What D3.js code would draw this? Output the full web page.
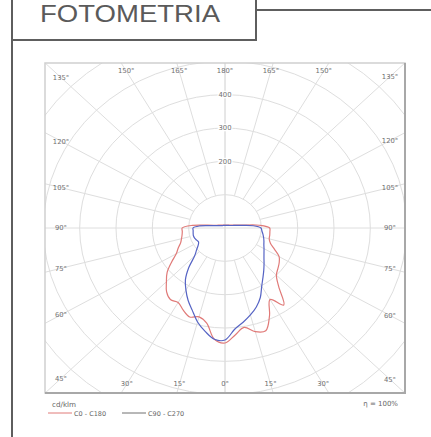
<!DOCTYPE html>
<html><head><meta charset="utf-8">
<script src="https://cdn.jsdelivr.net/npm/d3@7"></script>
<style>body{margin:0;background:#fff}svg{display:block}</style>
</head><body>
<svg id="c" width="431" height="437"></svg>
<script>
// ---- data ----
const gammaDeg = [0,5,10,15,20,25,30,35,40,45,50,55,60,65,70,75,80,85,90,95,100,105,110,120,135,150,165,180];
const c0   = [345,322,303,322,328,290,248,282,230,200,190,182,172,150,133,126,125,124,123,95,50,33,25,17,12,10,9,9];
const c180 = [345,335,290,276,284,272,258,262,250,228,208,180,155,142,130,124,120,118,118,90,48,32,24,17,12,10,9,9];
const c90  = [336,305,287,270,252,230,202,182,166,152,140,131,124,118,114,110,106,102,99,78,44,30,22,15,11,9,8,8];
const c270 = [336,335,315,292,263,240,215,190,155,118,102,90,84,86,89,90,89,88,88,70,40,28,20,14,10,9,8,8];
const ringValues = [100,200,300,400,500,600,700];
const ringLabels = [200,300,400];
const spokeAngles = d3.range(0,181,15);
const labelAngles = [0,15,30,45,60,75,90,105,120,135,150,165,180];
const seriesNames = ["C0 - C180","C90 - C270"];
const seriesColors = ["#e07a78","#5563c4"];
const legendColors = ["#e07a78","#707070"];
const unitLabel = "cd/klm";
const effLabel = "η = 100%";
const title = "FOTOMETRIA";

// ---- layout ----
const svg = d3.select("#c");
const frame = {x0:45, y0:63, x1:405, y1:393};
const cx = (frame.x0+frame.x1)/2, cy = (frame.y0+frame.y1)/2;
const stretch = 1.09;
const ry = d3.scaleLinear().domain([0,100]).range([0,100/3]);
const rx = d3.scaleLinear().domain([0,100]).range([0,100/3*stretch]);
const rad = d => d*Math.PI/180;
const pt = (g,v,side) => [cx + side*rx(v)*Math.sin(rad(g)), cy + ry(v)*Math.cos(rad(g))];

// header
const hc = "#5e5e5e";
svg.append("line").attr("x1",12).attr("y1",0).attr("x2",12).attr("y2",437).attr("stroke",hc).attr("stroke-width",2);
svg.append("line").attr("x1",12).attr("y1",40).attr("x2",256).attr("y2",40).attr("stroke",hc).attr("stroke-width",2);
svg.append("line").attr("x1",256).attr("y1",0).attr("x2",256).attr("y2",41).attr("stroke",hc).attr("stroke-width",2);
svg.append("line").attr("x1",256).attr("y1",10).attr("x2",431).attr("y2",10).attr("stroke",hc).attr("stroke-width",2);
svg.append("text").attr("x",40).attr("y",22).attr("font-family","'Liberation Sans', sans-serif")
  .attr("font-size",23).attr("fill","#5a5a5a").attr("textLength",180).attr("lengthAdjust","spacingAndGlyphs").text(title);

// clip
svg.append("clipPath").attr("id","fr").append("rect")
  .attr("x",frame.x0).attr("y",frame.y0).attr("width",frame.x1-frame.x0).attr("height",frame.y1-frame.y0);
const g = svg.append("g").attr("clip-path","url(#fr)");
const gc = "#dedede";
g.selectAll("ellipse.ring").data(ringValues).join("ellipse").attr("class","ring")
  .attr("cx",cx).attr("cy",cy).attr("rx",d=>rx(d)).attr("ry",d=>ry(d))
  .attr("fill","none").attr("stroke",gc).attr("stroke-width",1);
[1,-1].forEach(side=>{
  g.selectAll(null).data(spokeAngles).join("line")
    .attr("x1",d=>pt(d,(d%90===0)?0:100,side)[0]).attr("y1",d=>pt(d,(d%90===0)?0:100,side)[1])
    .attr("x2",d=>pt(d,1200,side)[0]).attr("y2",d=>pt(d,1200,side)[1])
    .attr("stroke",gc).attr("stroke-width",1);
});

// frame
svg.append("rect").attr("x",frame.x0).attr("y",frame.y0).attr("width",frame.x1-frame.x0).attr("height",frame.y1-frame.y0)
  .attr("fill","none").attr("stroke","#cfcfcf").attr("stroke-width",1.5);
svg.append("path").attr("d",`M${frame.x1},${frame.y0}V${frame.y1}H${frame.x0}`)
  .attr("fill","none").attr("stroke","#a8a8a8").attr("stroke-width",2);

// angle labels
const inset = {x0:61, x1:390, y0:71, y1:384};
function labelPos(a, side){
  const dx = side*Math.sin(rad(a))*stretch, dy = Math.cos(rad(a));
  let t = Infinity;
  if (dx>1e-6) t = Math.min(t,(inset.x1-cx)/dx);
  if (dx<-1e-6) t = Math.min(t,(inset.x0-cx)/dx);
  if (dy>1e-6) t = Math.min(t,(inset.y1-cy)/dy);
  if (dy<-1e-6) t = Math.min(t,(inset.y0-cy)/dy);
  return [cx+dx*t, cy+dy*t];
}
const labs = [];
labelAngles.forEach(a=>{
  labs.push({a, p:labelPos(a,-1)});
  if (a!==0 && a!==180) labs.push({a, p:labelPos(a,1)});
});
svg.selectAll("text.al").data(labs).join("text").attr("class","al")
  .attr("x",d=>d.p[0]).attr("y",d=>d.p[1]).attr("dy","0.35em").attr("text-anchor","middle")
  .attr("font-family","'DejaVu Sans', sans-serif").attr("font-size",6.8).attr("fill","#707070").text(d=>d.a+"°");

// ring labels
svg.selectAll("text.rl").data(ringLabels).join("text").attr("class","rl")
  .attr("x",cx).attr("y",d=>cy-ry(d)).attr("dy","0.35em").attr("text-anchor","middle")
  .attr("font-family","'DejaVu Sans', sans-serif").attr("font-size",6.8).attr("fill","#707070")
  .attr("stroke","#fff").attr("stroke-width",2.5).attr("paint-order","stroke").text(d=>d);

// curves
function closedPts(right,left){
  const pts = gammaDeg.map((gd,i)=>pt(gd,right[i],1));
  for (let i=gammaDeg.length-2;i>=1;i--) pts.push(pt(gammaDeg[i],left[i],-1));
  return pts;
}
const line = d3.line().curve(d3.curveCatmullRomClosed.alpha(0.5));
const seriesData = [closedPts(c0,c180), closedPts(c90,c270)];
svg.selectAll("path.s").data(seriesData).join("path").attr("class","s")
  .attr("d",d=>line(d)).attr("fill","none").attr("stroke",(d,i)=>seriesColors[i]).attr("stroke-width",1.2);

// legend
svg.append("text").attr("x",52).attr("y",407).attr("font-family","'DejaVu Sans', sans-serif").attr("font-size",7.2).attr("fill","#666").text(unitLabel);
const lx = [48,122];
seriesNames.forEach((n,i)=>{
  svg.append("line").attr("x1",lx[i]).attr("x2",lx[i]+24).attr("y1",413).attr("y2",413).attr("stroke",legendColors[i]).attr("stroke-width",1);
  svg.append("text").attr("x",lx[i]+26).attr("y",415.5).attr("font-family","'DejaVu Sans', sans-serif").attr("font-size",6.5).attr("fill","#666").text(n);
});
svg.append("text").attr("x",398).attr("y",406).attr("text-anchor","end").attr("font-family","'DejaVu Sans', sans-serif").attr("font-size",7).attr("fill","#666").text(effLabel);
</script>
</body></html>
